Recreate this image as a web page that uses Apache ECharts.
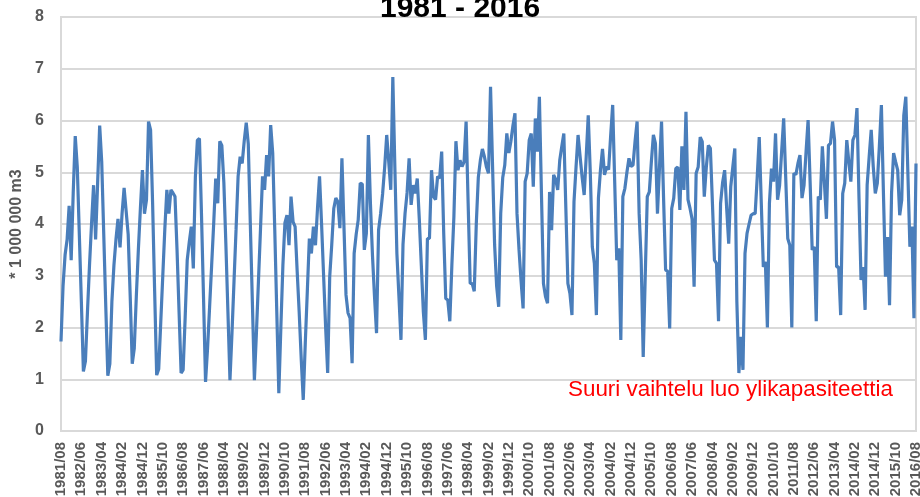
<!DOCTYPE html>
<html>
<head>
<meta charset="utf-8">
<script src="https://cdn.jsdelivr.net/npm/echarts@6/dist/echarts.min.js"></script>
<style>
  html, body { margin: 0; padding: 0; background: #fff; }
  #chart { width: 920px; height: 497px; }
</style>
</head>
<body>
<div id="chart"></div>
<script>
// monthly volume, * 1 000 000 m3, starting 1981/08
const vol1981 = [
  1.73, 2.8, 3.4, 3.7, 4.35, 3.3, 4.6, 5.7, 5.1, 3.8, 2.5, 1.15,
  1.35, 2.3, 3.2, 4.0, 4.75, 3.7, 4.8, 5.9, 5.2, 3.8, 2.4, 1.07,
  1.3, 2.5, 3.2, 3.7, 4.1, 3.55, 4.2, 4.7, 4.25, 3.8, 2.6, 1.3,
  1.6, 2.6, 3.5, 4.3, 5.04, 4.2, 4.47, 5.98, 5.82, 4.4, 2.7, 1.08,
  1.2, 2.1, 3.0, 3.9, 4.66, 4.2, 4.66, 4.6, 4.53, 3.5, 2.3, 1.12
];
const vol1986 = [
  1.18, 2.2, 3.3, 3.65, 3.95, 3.14, 4.9, 5.62, 5.65, 4.2, 2.6, 0.95,
  1.6, 2.4, 3.2, 4.0, 4.88, 4.4, 5.6, 5.52, 4.8, 3.6, 2.3, 0.98,
  1.9, 2.9, 3.9, 4.92, 5.3, 5.17, 5.6, 5.96, 5.55, 4.0, 2.5, 0.98,
  1.9, 2.9, 3.9, 4.92, 4.66, 5.33, 4.92, 5.91, 5.37, 3.9, 2.3, 0.73,
  2.0, 3.2, 4.02, 4.17, 3.59, 4.53, 4.04, 3.95, 3.1, 2.3, 1.4, 0.6
];
const vol1991 = [
  1.7, 2.7, 3.72, 3.43, 3.95, 3.59, 4.3, 4.92, 4.0, 3.0, 2.0, 1.12,
  2.98, 3.6, 4.3, 4.5, 4.43, 3.92, 5.27, 3.95, 2.63, 2.28, 2.18, 1.31,
  3.43, 3.8, 4.08, 4.79, 4.77, 3.5, 3.82, 5.72, 4.4, 3.4, 2.6, 1.89,
  3.88, 4.2, 4.59, 5.1, 5.72, 5.2, 4.66, 6.84, 5.1, 3.43, 2.6, 1.76,
  3.6, 4.2, 4.6, 5.27, 4.37, 4.75, 4.59, 4.88, 4.1, 3.2, 2.3, 1.76
];
const vol1996 = [
  3.72, 3.72, 5.04, 4.53, 4.47, 4.92, 4.88, 5.4, 3.82, 2.56, 2.53, 2.12,
  3.2, 4.14, 5.6, 5.04, 5.23, 5.11, 5.2, 5.98, 4.4, 2.85, 2.85, 2.7,
  4.0, 4.9, 5.23, 5.45, 5.3, 5.1, 4.98, 6.65, 5.11, 3.6, 2.8, 2.4,
  4.2, 4.9, 5.14, 5.75, 5.37, 5.6, 5.9, 6.14, 4.2, 3.5, 2.9, 2.37,
  4.82, 4.98, 5.62, 5.75, 4.72, 6.04, 5.4, 6.46, 4.6, 2.85, 2.6, 2.47
];
const vol2001 = [
  4.62, 3.88, 4.95, 4.86, 4.66, 5.23, 5.5, 5.75, 4.3, 2.85, 2.66, 2.24,
  4.43, 5.1, 5.72, 5.3, 4.9, 4.56, 5.3, 6.1, 5.0, 3.56, 3.24, 2.24,
  4.5, 5.04, 5.45, 4.95, 5.11, 5.05, 5.7, 6.3, 4.8, 3.3, 3.53, 1.76,
  4.53, 4.69, 5.0, 5.27, 5.11, 5.14, 5.6, 5.98, 4.2, 3.3, 1.43, 3.0,
  4.53, 4.62, 5.2, 5.72, 5.56, 4.2, 5.1, 5.98, 4.5, 3.11, 3.09, 1.98
];
const vol2006 = [
  4.3, 4.5, 5.07, 5.1, 4.27, 5.5, 4.66, 6.17, 4.47, 4.3, 4.1, 2.79,
  4.98, 5.1, 5.68, 5.59, 4.53, 5.1, 5.52, 5.46, 4.4, 3.3, 3.24, 2.12,
  4.4, 4.8, 5.04, 4.3, 3.62, 4.72, 5.1, 5.46, 2.5, 1.12, 1.82, 1.18,
  3.43, 3.82, 4.0, 4.17, 4.2, 4.2, 4.9, 5.68, 4.4, 3.17, 3.27, 2.0,
  4.4, 5.07, 4.82, 5.75, 4.47, 4.75, 5.4, 6.04, 4.9, 3.72, 3.59, 2.0
];
const vol2011 = [
  4.98, 4.95, 5.17, 5.33, 4.5, 4.75, 5.4, 6.01, 4.8, 3.5, 3.56, 2.12,
  4.53, 4.47, 5.5, 4.8, 4.1, 5.52, 5.56, 5.98, 5.62, 3.17, 3.17, 2.24,
  4.59, 4.79, 5.62, 5.2, 4.82, 5.62, 5.72, 6.24, 4.5, 2.92, 3.17, 2.34,
  4.75, 5.3, 5.82, 5.11, 4.59, 4.79, 5.5, 6.3, 4.6, 2.98, 3.75, 2.43,
  4.6, 5.37, 5.2, 5.04, 4.17, 4.47, 6.1, 6.46, 5.0, 3.56, 3.95, 2.18,
  5.17
];

const tickLabels = [
  '1981/08', '1982/06', '1983/04', '1984/02', '1984/12', '1985/10', '1986/08',
  '1987/06', '1988/04', '1989/02', '1989/12', '1990/10', '1991/08', '1992/06',
  '1993/04', '1994/02', '1994/12', '1995/10', '1996/08', '1997/06', '1998/04',
  '1999/02', '1999/12', '2000/10', '2001/08', '2002/06', '2003/04', '2004/02',
  '2004/12', '2005/10', '2006/08', '2007/06', '2008/04', '2009/02', '2009/12',
  '2010/10', '2011/08', '2012/06', '2013/04', '2014/02', '2014/12', '2015/10',
  '2016/08'
];

const values = [].concat(vol1981, vol1986, vol1991, vol1996, vol2001, vol2006, vol2011);

// month categories 1981/08 ...
const categories = [];
for (let i = 0; i < values.length; i++) {
  const m = 7 + i;
  const year = 1981 + Math.floor(m / 12);
  const month = (m % 12) + 1;
  categories.push(year + '/' + (month < 10 ? '0' : '') + month);
}

const font = 'Liberation Sans, Arial, sans-serif';
const chart = echarts.init(document.getElementById('chart'));

const option = {
  animation: false,
  grid: {
    left: 61,
    right: 4,
    top: 17,
    bottom: 66,
    outerBoundsMode: 'none',
    containLabel: false,
    show: true,
    borderColor: '#d9d9d9',
    borderWidth: 2
  },
  graphic: [
    {
      type: 'text',
      left: 380,
      top: -6,
      z: 100,
      style: {
        text: '1981 - 2016',
        fill: '#000',
        font: 'bold 30px ' + font
      }
    },
    {
      type: 'text',
      left: 568,
      top: 379,
      z: 100,
      style: {
        text: 'Suuri vaihtelu luo ylikapasiteettia',
        fill: '#ff0000',
        font: '22.4px ' + font
      }
    }
  ],
  xAxis: {
    type: 'category',
    data: categories,
    boundaryGap: false,
    axisLine: { lineStyle: { color: '#d9d9d9', width: 2 } },
    axisTick: { show: false },
    axisLabel: {
      interval: (index) => tickLabels.includes(categories[index]),
      rotate: 90,
      margin: 11,
      color: '#595959',
      fontWeight: 'bold',
      fontSize: 15,
      fontFamily: font
    },
    splitLine: { show: false }
  },
  yAxis: {
    type: 'value',
    min: 0,
    max: 8,
    interval: 1,
    name: '* 1 000 000 m3',
    nameLocation: 'middle',
    nameRotate: 90,
    nameGap: 32,
    nameTextStyle: {
      color: '#595959',
      fontWeight: 'bold',
      fontSize: 16,
      fontFamily: font
    },
    axisLine: { show: false },
    axisTick: { show: false },
    axisLabel: {
      margin: 17,
      color: '#595959',
      fontWeight: 'bold',
      fontSize: 16,
      fontFamily: font
    },
    splitLine: { lineStyle: { color: '#d9d9d9', width: 2 } }
  },
  series: [
    {
      type: 'line',
      data: values,
      symbol: 'none',
      lineStyle: { color: '#4a7ebb', width: 3.2 },
      itemStyle: { color: '#4a7ebb' }
    }
  ]
};

chart.setOption(option);
</script>
</body>
</html>
